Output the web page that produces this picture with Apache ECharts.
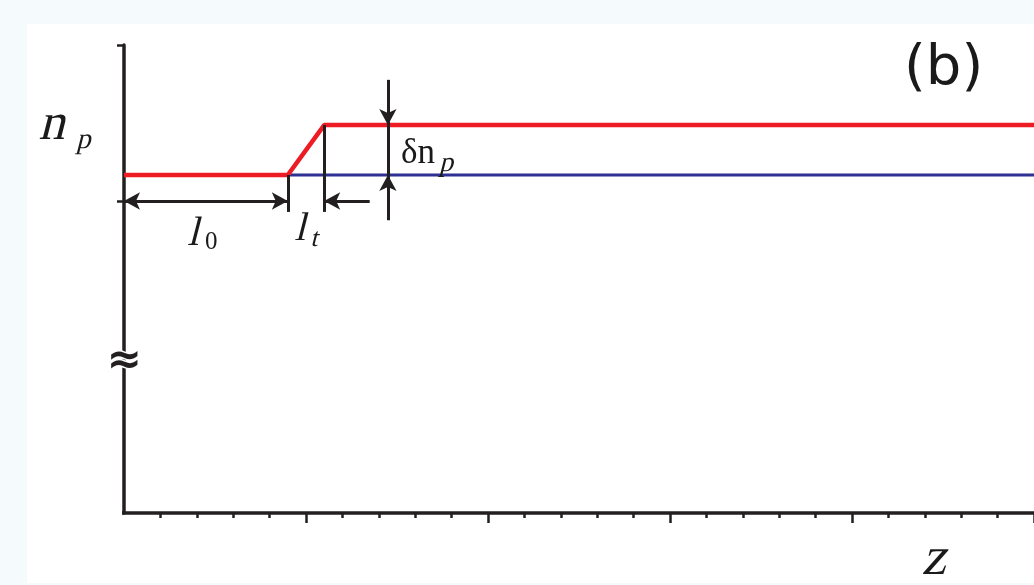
<!DOCTYPE html>
<html><head><meta charset="utf-8">
<script src="https://cdn.jsdelivr.net/npm/echarts@6/dist/echarts.min.js"></script>
<style>
html,body{margin:0;padding:0;background:#f5fafc;}
#panel{position:absolute;left:27px;top:24px;width:1007px;height:559px;background:#ffffff;}
#c{position:absolute;left:0;top:0;width:1034px;height:585px;}
</style></head><body>
<div id="panel"></div><div id="c"></div>
<script>
// ---- data ----
const zRange = [0, 5];
const nRange = [0, 9];
const xMajorTicks = [1, 2, 3, 4, 5];
const yTicks = [6, 9];
const redZ = [0, 0.9, 1.1, 5];
const redN = [6.5, 6.5, 7.46, 7.46];
const blueZ = [0.9, 5];
const blueN = [6.5, 6.5];
// annotation geometry (data units)
const l0End = 0.9, ltEnd = 1.1, ltTail = 1.35;
const dimArrowN = 6;
const dimLineBottom = 5.79;
const deltaZ = 1.45, deltaTop = 8.33, deltaBottom = 5.63;
const nLow = 6.5, nHigh = 7.46;
const breakN = 2.9;
const axisExtZ = [-0.077, 0];

const INK = '#231f20';
const AR = {symbol: 'arrow', symbolSize: [13, 16]};
const NO = {symbol: 'none'};
const pair = (a, b) => a.map((v, i) => [v, b[i]]);

const chart = echarts.init(document.getElementById('c'), null, {renderer: 'canvas'});
const serif = 'Liberation Serif';
function txt(x, y, s, size, family) {
  return {type: 'text', x: x, y: y, silent: true, z: 10,
    style: {text: s, fill: '#1a1a1a', fontFamily: family || serif, fontSize: size,
      verticalAlign: 'middle', align: 'left'}};
}
chart.setOption({
  animation: false,
  grid: {left: 124, top: 45, width: 913, height: 468},
  xAxis: {type: 'value', min: zRange[0], max: zRange[1], interval: 1,
    axisLine: {lineStyle: {color: INK, width: 3.5}},
    axisTick: {show: true, length: 10, customValues: xMajorTicks, lineStyle: {color: INK, width: 2.5}},
    minorTick: {show: true, splitNumber: 5, length: 5, lineStyle: {color: INK, width: 2.5}},
    axisLabel: {show: false}, splitLine: {show: false}, minorSplitLine: {show: false}},
  yAxis: {type: 'value', min: nRange[0], max: nRange[1], interval: 3,
    axisLine: {show: true, lineStyle: {color: INK, width: 3.5}},
    axisTick: {show: true, length: 7, customValues: yTicks, lineStyle: {color: INK, width: 2.5}},
    axisLabel: {show: false}, splitLine: {show: false}},
  series: [
    {type: 'line', data: pair(axisExtZ, [0, 0]), symbol: 'none', clip: false, silent: true,
      lineStyle: {color: INK, width: 3.5}, z: 1},
    {type: 'line', data: pair(blueZ, blueN), symbol: 'none', silent: true,
      lineStyle: {color: '#2e3192', width: 3}, z: 3,
      markLine: {silent: true, animation: false, label: {show: false},
        lineStyle: {color: INK, width: 3, type: 'solid'},
        emphasis: {disabled: true},
        data: [
          [{coord: [0, dimArrowN], ...AR}, {coord: [l0End, dimArrowN], ...AR}],
          [{coord: [ltTail, dimArrowN], ...NO}, {coord: [ltEnd, dimArrowN], ...AR}],
          [{coord: [l0End, nLow], ...NO}, {coord: [l0End, dimLineBottom], ...NO}],
          [{coord: [ltEnd, nHigh], ...NO}, {coord: [ltEnd, dimLineBottom], ...NO}],
          [{coord: [deltaZ, deltaTop], ...NO}, {coord: [deltaZ, nHigh], ...AR}],
          [{coord: [deltaZ, nHigh], ...NO}, {coord: [deltaZ, nLow], ...NO}],
          [{coord: [deltaZ, deltaBottom], ...NO}, {coord: [deltaZ, nLow], ...AR}]
        ]},
      markPoint: {silent: true, animation: false, symbol: 'circle', symbolSize: 1,
        itemStyle: {color: 'rgba(0,0,0,0)'},
        label: {show: true, position: 'inside', formatter: '\u2248', color: INK,
          fontFamily: 'DejaVu Sans', fontSize: 42, fontWeight: 'bold',
          textBorderColor: '#ffffff', textBorderWidth: 3},
        data: [{coord: [0, breakN]}]}},
    {type: 'line', data: pair(redZ, redN), symbol: 'none', silent: true,
      lineStyle: {color: '#ed1c24', width: 4.5}, z: 4}
  ],
  graphic: [
    txt(205, 242, '0', 25),
    txt(401, 154, '\u03b4n', 35),
    txt(904, 69, '(b)', 56, 'DejaVu Sans')
  ]
});
// slanted serif letters (roman face sheared, as italic)
const zr = chart.getZr();
function slanted(x, y, s, size) {
  zr.add(new echarts.graphic.Text({x: x, y: y, skewX: -0.25, z: 10, silent: true,
    style: {text: s, fill: '#1a1a1a', fontFamily: serif, fontSize: size,
      verticalAlign: 'middle', align: 'left'}}));
}
slanted(42, 125, 'n', 52);
slanted(78, 140, 'p', 29);
slanted(190, 234, 'l', 41);
slanted(297, 229, 'l', 40);
slanted(312, 239, 't', 26);
slanted(441, 164, 'p', 28);
slanted(925, 560, 'z', 54);
</script>
</body></html>
